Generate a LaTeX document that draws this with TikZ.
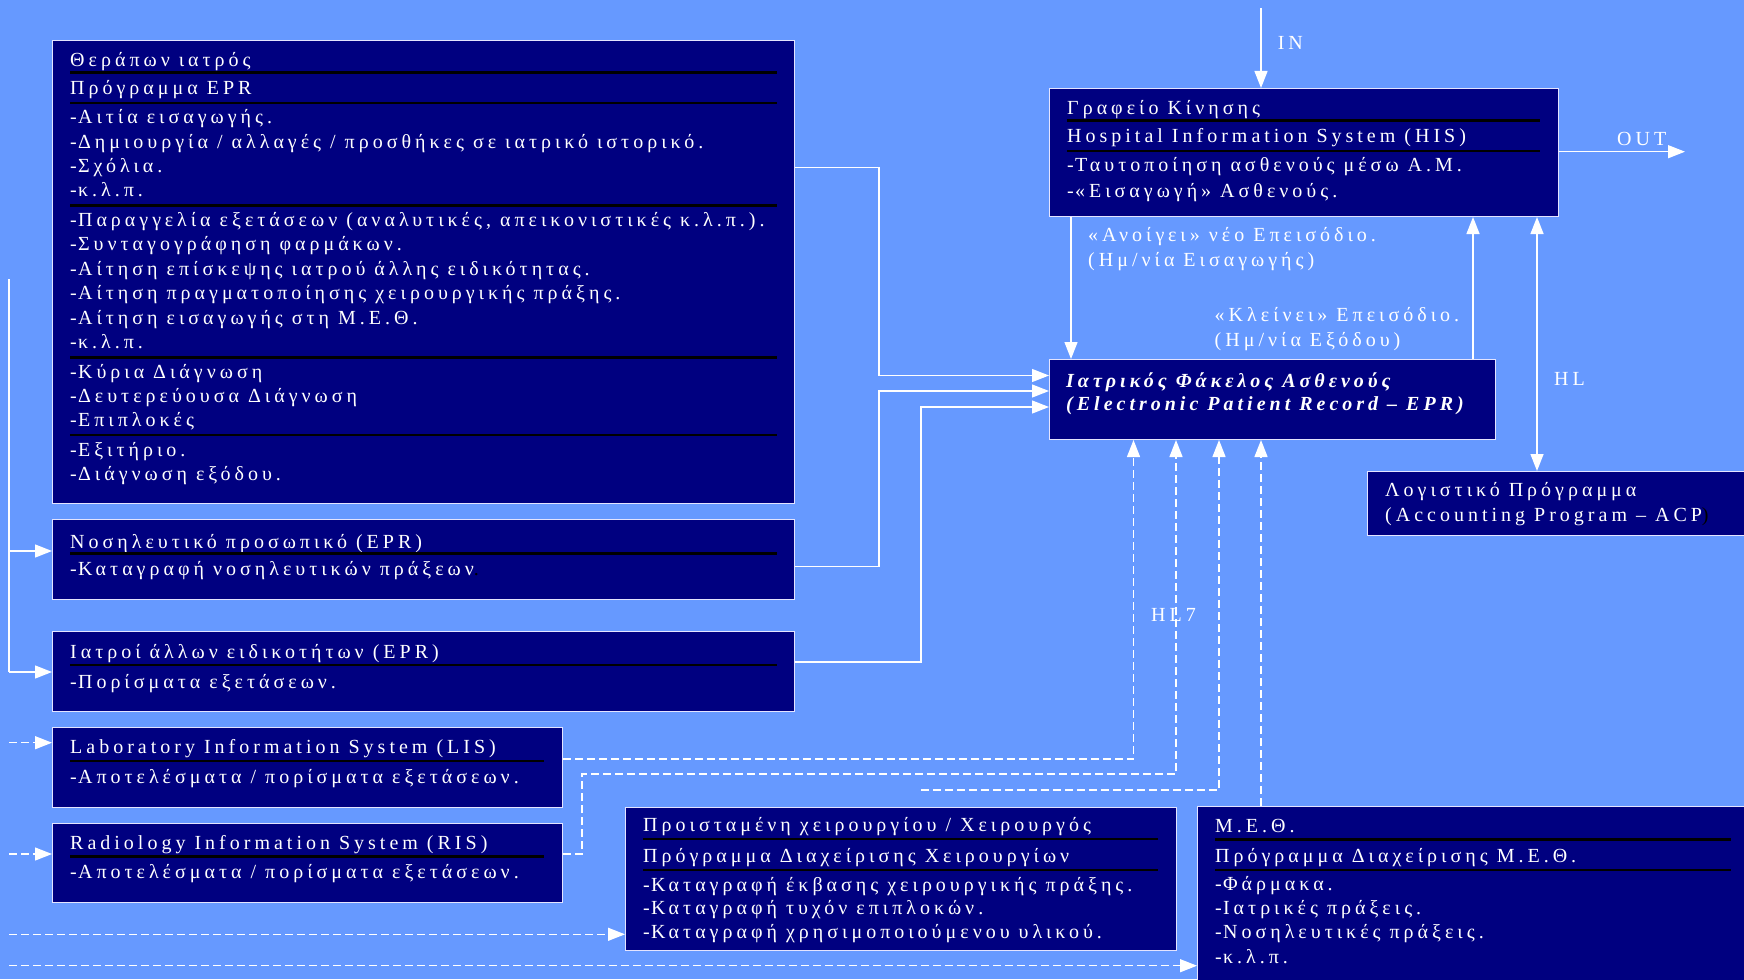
\documentclass[tikz,border=0pt]{standalone}
\usepackage{fontspec}
\setmainfont{Liberation Serif}[LetterSpace=20]
\usetikzlibrary{arrows.meta}
\definecolor{bg}{HTML}{6699FF}
\definecolor{navy}{HTML}{000080}
\definecolor{edge}{HTML}{E4E4FF}
\newcommand{\dsh}{-\kern1.2pt}
\begin{document}
\begin{tikzpicture}[x=1pt,y=-1pt,
  box/.style={draw=edge, line width=1pt, fill=navy, inner sep=0pt, anchor=north west},
  txt/.style={text=white, anchor=base west, inner sep=0pt, font=\fontsize{20}{20}\selectfont},
  lbl/.style={txt},
  bi/.style={txt, font=\fontsize{20}{20}\selectfont\bfseries\itshape},
  sepline/.style={black, line width=2.6pt},
  conn/.style={white, line width=1.3pt, -{Triangle[length=17pt,width=13pt]}},
  dconn/.style={conn, dash pattern=on 8pt off 4pt},
  pline/.style={white, line width=1.3pt}]
\fill[bg] (0,0) rectangle (1744,979);
\useasboundingbox (0,0) rectangle (1744,979);

% ---------- boxes ----------
\node[box, minimum width=742pt, minimum height=463pt] (b1) at (52,40) {};
\node[box, minimum width=742pt, minimum height=80pt] (b2) at (52,519) {};
\node[box, minimum width=742pt, minimum height=80pt] (b3) at (52,631) {};
\node[box, minimum width=510pt, minimum height=80pt] (lis) at (52,727) {};
\node[box, minimum width=510pt, minimum height=79pt] (ris) at (52,823) {};
\node[box, minimum width=551pt, minimum height=143pt] (sur) at (625,807) {};
\node[box, minimum width=570pt, minimum height=190pt] (meth) at (1197,806) {};
\node[box, minimum width=509pt, minimum height=128pt] (his) at (1049,88) {};
\node[box, minimum width=446pt, minimum height=80pt] (epr) at (1049,359) {};
\node[box, minimum width=400pt, minimum height=64pt] (acp) at (1367,471) {};

% ---------- box 1 ----------
\node[txt] (t101) at (70,66.5) {Θεράπων ιατρός};
\draw[sepline] (70,72.5) -- (777,72.5);
\node[txt] (t102) at (70,95) {Πρόγραμμα EPR};
\draw[sepline] (70,103) -- (777,103);
\node[txt] (t103) at (70,124) {\dsh Αιτία εισαγωγής.};
\node[txt] (t104) at (70,148.3) {\dsh Δημιουργία / αλλαγές / προσθήκες σε ιατρικό ιστορικό.};
\node[txt] (t105) at (70,172.5) {\dsh Σχόλια.};
\node[txt] (t106) at (70,196.7) {\dsh κ.λ.π.};
\draw[sepline] (70,205.5) -- (777,205.5);
\node[txt] (t107) at (70,226.7) {\dsh Παραγγελία εξετάσεων (αναλυτικές, απεικονιστικές κ.λ.π.).};
\node[txt] (t108) at (70,250.7) {\dsh Συνταγογράφηση φαρμάκων.};
\node[txt] (t109) at (70,275) {\dsh Αίτηση επίσκεψης ιατρού άλλης ειδικότητας.};
\node[txt] (t110) at (70,299.3) {\dsh Αίτηση πραγματοποίησης χειρουργικής πράξης.};
\node[txt] (t111) at (70,324) {\dsh Αίτηση εισαγωγής στη Μ.Ε.Θ.};
\node[txt] (t112) at (70,348.3) {\dsh κ.λ.π.};
\draw[sepline] (70,357.5) -- (777,357.5);
\node[txt] (t113) at (70,378.3) {\dsh Κύρια Διάγνωση};
\node[txt] (t114) at (70,402.3) {\dsh Δευτερεύουσα Διάγνωση};
\node[txt] (t115) at (70,426.7) {\dsh Επιπλοκές};
\draw[sepline] (70,435) -- (777,435);
\node[txt] (t116) at (70,456.7) {\dsh Εξιτήριο.};
\node[txt] (t117) at (70,480) {\dsh Διάγνωση εξόδου.};

% ---------- box 2, 3 ----------
\node[txt] (t201) at (70,548.3) {Νοσηλευτικό προσωπικό (EPR)};
\draw[sepline] (70,553.5) -- (777,553.5);
\node[txt] (t202) at (70,575) {\dsh Καταγραφή νοσηλευτικών πράξεων\textcolor{black}{.}};
\node[txt] (t301) at (70,658.3) {Ιατροί άλλων ειδικοτήτων (EPR)};
\draw[sepline] (70,665) -- (777,665);
\node[txt] (t302) at (70,688) {\dsh Πορίσματα εξετάσεων.};

% ---------- LIS / RIS ----------
\node[txt] (t401) at (70,753.3) {Laboratory Information System (LIS)};
\draw[sepline] (70,761) -- (544,761);
\node[txt] (t402) at (70,783.3) {\dsh Αποτελέσματα / πορίσματα εξετάσεων.};
\node[txt] (t501) at (70,849) {Radiology Information System (RIS)};
\draw[sepline] (70,856.7) -- (544,856.7);
\node[txt] (t502) at (70,878.3) {\dsh Αποτελέσματα / πορίσματα εξετάσεων.};

% ---------- surgery ----------
\node[txt] (t601) at (643,831.7) {Προισταμένη χειρουργίου / Χειρουργός};
\draw[sepline] (643,839) -- (1158,839);
\node[txt] (t602) at (643,862.3) {Πρόγραμμα Διαχείρισης Χειρουργίων};
\draw[sepline] (643,870) -- (1158,870);
\node[txt] (t603) at (643,891) {\dsh Καταγραφή έκβασης χειρουργικής πράξης.};
\node[txt] (t604) at (643,914.5) {\dsh Καταγραφή τυχόν επιπλοκών.};
\node[txt] (t605) at (643,938.3) {\dsh Καταγραφή χρησιμοποιούμενου υλικού.};

% ---------- ICU ----------
\node[txt] (t701) at (1215,832.7) {Μ.Ε.Θ.};
\draw[sepline] (1215,839.3) -- (1731,839.3);
\node[txt] (t702) at (1215,862.7) {Πρόγραμμα Διαχείρισης Μ.Ε.Θ.};
\draw[sepline] (1215,870) -- (1731,870);
\node[txt] (t703) at (1215,890) {\dsh Φάρμακα.};
\node[txt] (t704) at (1215,914) {\dsh Ιατρικές πράξεις.};
\node[txt] (t705) at (1215,938.5) {\dsh Νοσηλευτικές πράξεις.};
\node[txt] (t706) at (1215,963) {\dsh κ.λ.π.};

% ---------- HIS ----------
\node[txt] (t801) at (1067,114.3) {Γραφείο Κίνησης};
\draw[sepline] (1067,120.4) -- (1540,120.4);
\node[txt] (t802) at (1067,142.5) {Hospital Information System (HIS)};
\draw[sepline] (1067,151) -- (1540,151);
\node[txt] (t803) at (1067,171) {\dsh Ταυτοποίηση ασθενούς μέσω Α.Μ.};
\node[txt] (t804) at (1067,197) {\dsh «Εισαγωγή» Ασθενούς.};

% ---------- EPR ----------
\node[bi] (t901) at (1066,387.5) {Ιατρικός Φάκελος Ασθενούς};
\node[bi] (t902) at (1066,410.7) {(Electronic Patient Record – EPR)};

% ---------- ACP ----------
\node[txt] (t1001) at (1385,496.4) {Λογιστικό Πρόγραμμα};
\node[txt] (t1002) at (1385,521.4) {(Accounting Program – ACP\textcolor{black}{)}};

% ---------- labels ----------
\node[lbl] (lin) at (1277.6,50) {IN};
\node[lbl] (lout) at (1617,145) {OUT};
\node[lbl] (lhl) at (1554,385) {HL};
\node[lbl] (lhl7) at (1151,621) {HL7};
\node[lbl] (lopen1) at (1088,241) {«Ανοίγει» νέο Επεισόδιο.};
\node[lbl] (lopen2) at (1088,266) {(Ημ/νία Εισαγωγής)};
\node[lbl] (lclose1) at (1214.5,321.4) {«Κλείνει» Επεισόδιο.};
\node[lbl] (lclose2) at (1214.5,346.4) {(Ημ/νία Εξόδου)};

% ---------- routing coordinates ----------
\coordinate (k1) at (879,167.5);
\coordinate (k2) at (879,375.5);
\coordinate (k3) at (879,566.5);
\coordinate (k4) at (879,391);
\coordinate (k5) at (921,662);
\coordinate (k6) at (921,407);
\coordinate (inS) at (1261,8);
\coordinate (outE) at (1685,151.7);
\coordinate (xo) at (1071,0);
\coordinate (xc) at (1473,0);
\coordinate (xh) at (1537,0);
\coordinate (lt) at (9,279);
\coordinate (l2) at (9,551);
\coordinate (l3) at (9,672);
\coordinate (m1) at (1133.5,759);
\coordinate (m2a) at (582,854);
\coordinate (m2b) at (582,774);
\coordinate (m2c) at (1176,774);
\coordinate (m3a) at (921,790);
\coordinate (m3b) at (1219,790);
\coordinate (xm) at (1261,0);
\coordinate (d1) at (9,742.7);
\coordinate (d2) at (9,854);
\coordinate (d3) at (9,934.3);
\coordinate (d4) at (9,965.7);

% ---------- solid connectors ----------
\draw[conn] (b1.east |- k1) -- (k1) -- (k2) -- (epr.west |- k2);
\draw[conn] (b2.east |- k3) -- (k3) -- (k4) -- (epr.west |- k4);
\draw[conn] (b3.east |- k5) -- (k5) -- (k6) -- (epr.west |- k6);
\draw[conn] (inS) -- (his.north -| inS);
\draw[conn] (his.east |- outE) -- (outE);
\draw[conn] (his.south -| xo) -- (epr.north -| xo);
\draw[conn] (epr.north -| xc) -- (his.south -| xc);
\draw[conn, {Triangle[length=17pt,width=13pt]}-{Triangle[length=17pt,width=13pt]}] (his.south -| xh) -- (acp.north -| xh);
\draw[pline] (lt) -- (l3);
\draw[conn] (l2) -- (b2.west |- l2);
\draw[conn] (l3) -- (b3.west |- l3);

% ---------- dashed connectors ----------
\draw[dconn] (lis.east |- m1) -- (m1) -- (epr.south -| m1);
\draw[dconn] (ris.east |- m2a) -- (m2a) -- (m2b) -- (m2c) -- (epr.south -| m2c);
\draw[dconn] (m3a) -- (m3b) -- (epr.south -| m3b);
\draw[dconn] (meth.north -| xm) -- (epr.south -| xm);
\draw[dconn] (d1) -- (lis.west |- d1);
\draw[dconn] (d2) -- (ris.west |- d2);
\draw[dconn] (d3) -- (sur.west |- d3);
\draw[dconn] (d4) -- (meth.west |- d4);
\end{tikzpicture}
\end{document}
